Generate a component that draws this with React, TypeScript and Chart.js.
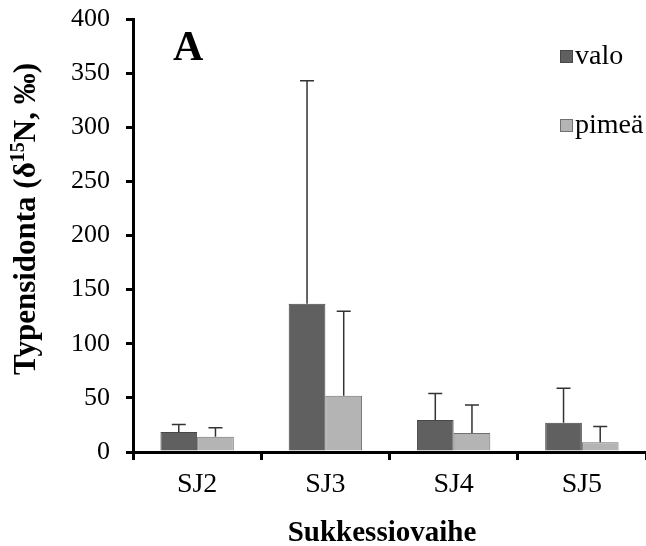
import React, { useEffect, useRef } from "react";
import { Chart, registerables } from "chart.js";

Chart.register(...registerables);

// ---- data ----
const categories = ["SJ2", "SJ3", "SJ4", "SJ5"];
const valo = [18.5, 137, 29.5, 27];
const valoErr = [7, 206, 24.5, 32];
const pimea = [14, 52, 17.5, 9];
const pimeaErr = [8.5, 78, 26, 14.5];
const seriesNames = ["valo", "pimeä"];
const yMin = 0;
const yMax = 400;
const yStep = 50;
const yTitleMain = "Typensidonta (δ";
const yTitleSup = "15";
const yTitleEnd = "N, ‰)";
const xTitle = "Sukkessiovaihe";
const panelLabel = "A";

const SERIF = '"Liberation Serif", "Times New Roman", serif';
const COLORS = ["#606060", "#b4b4b4"];
const BORDERS = ["#474747", "#707070"];

const errorBarPlugin = {
  id: "errorBars",
  afterDatasetsDraw(chart: any) {
    const ctx = chart.ctx;
    const ys = chart.scales.y;
    chart.data.datasets.forEach((ds: any, i: number) => {
      const meta = chart.getDatasetMeta(i);
      meta.data.forEach((el: any, j: number) => {
        const v = ds.data[j];
        const top = ys.getPixelForValue(v + ds.errors[j]);
        ctx.save();
        ctx.strokeStyle = "#333333";
        ctx.lineWidth = 1.5;
        ctx.beginPath();
        ctx.moveTo(el.x, el.y);
        ctx.lineTo(el.x, top);
        ctx.moveTo(el.x - 7, top);
        ctx.lineTo(el.x + 7, top);
        ctx.stroke();
        ctx.restore();
      });
    });
  },
};

const decorPlugin = {
  id: "decor",
  afterDraw(chart: any) {
    const ctx = chart.ctx;
    ctx.save();
    ctx.fillStyle = "#000";
    // y title (rotated, with superscript)
    const big = `bold 31px ${SERIF}`;
    const small = `bold 20px ${SERIF}`;
    ctx.font = big;
    const w1 = ctx.measureText(yTitleMain).width;
    const w3 = ctx.measureText(yTitleEnd).width;
    ctx.font = small;
    const w2 = ctx.measureText(yTitleSup).width;
    const total = w1 + w2 + w3;
    ctx.translate(35, 219);
    ctx.rotate(-Math.PI / 2);
    ctx.textBaseline = "alphabetic";
    ctx.textAlign = "left";
    let x = -total / 2;
    ctx.font = big;
    ctx.fillText(yTitleMain, x, 0);
    x += w1;
    ctx.font = small;
    ctx.fillText(yTitleSup, x, -11);
    x += w2;
    ctx.font = big;
    ctx.fillText(yTitleEnd, x, 0);
    ctx.restore();

    ctx.save();
    ctx.fillStyle = "#000";
    ctx.textBaseline = "alphabetic";
    // x title
    ctx.font = `bold 29px ${SERIF}`;
    ctx.textAlign = "center";
    ctx.fillText(xTitle, 382, 541);
    // panel label
    ctx.font = `bold 42px ${SERIF}`;
    ctx.textAlign = "left";
    ctx.fillText(panelLabel, 173, 60);
    // legend
    const legendY = [50.5, 119.5];
    ctx.font = `28px ${SERIF}`;
    seriesNames.forEach((name, i) => {
      ctx.fillStyle = COLORS[i];
      ctx.fillRect(560.5, legendY[i], 12, 12);
      ctx.strokeStyle = BORDERS[i];
      ctx.lineWidth = 1;
      ctx.strokeRect(560.5, legendY[i], 12, 12);
      ctx.fillStyle = "#000";
      ctx.fillText(name, 575, legendY[i] + 13.5);
    });
    ctx.restore();
  },
};

export default function App() {
  const ref = useRef<HTMLCanvasElement | null>(null);
  useEffect(() => {
    document.body.style.margin = "0";
    const canvas = ref.current!;
    const chart = new Chart(canvas, {
      type: "bar",
      data: {
        labels: categories,
        datasets: [
          {
            label: seriesNames[0],
            data: valo,
            errors: valoErr,
            backgroundColor: COLORS[0],
            borderColor: BORDERS[0],
            borderWidth: 1,
            categoryPercentage: 0.572,
            barPercentage: 1,
          } as any,
          {
            label: seriesNames[1],
            data: pimea,
            errors: pimeaErr,
            backgroundColor: COLORS[1],
            borderColor: BORDERS[1],
            borderWidth: 1,
            categoryPercentage: 0.572,
            barPercentage: 1,
          } as any,
        ],
      },
      options: {
        responsive: false,
        animation: false,
        layout: { padding: { top: 19, right: 0, bottom: 0, left: 0 } },
        plugins: {
          legend: { display: false },
          tooltip: { enabled: false },
          title: { display: false },
        },
        scales: {
          x: {
            type: "category",
            offset: true,
            grid: {
              display: true,
              offset: true,
              drawOnChartArea: false,
              drawTicks: true,
              tickLength: 8,
              lineWidth: 3,
              color: "#000",
            },
            border: { display: true, color: "#000", width: 3 },
            ticks: {
              color: "#000",
              font: { family: SERIF, size: 28 },
              padding: 8,
              maxRotation: 0,
            },
            afterFit: (s: any) => {
              s.height = 94;
              s.paddingLeft = 0;
              s.paddingRight = 0;
            },
          },
          y: {
            min: yMin,
            max: yMax,
            grid: {
              display: true,
              drawOnChartArea: false,
              drawTicks: true,
              tickLength: 7,
              lineWidth: 3,
              color: "#000",
            },
            border: { display: true, color: "#000", width: 3 },
            ticks: {
              stepSize: yStep,
              color: "#000",
              font: { family: SERIF, size: 26 },
              padding: 16,
            },
            afterFit: (s: any) => {
              s.width = 133;
              s.paddingTop = 10;
              s.paddingBottom = 10;
            },
          },
        },
      } as any,
      plugins: [errorBarPlugin, decorPlugin],
    });
    return () => chart.destroy();
  }, []);
  return (
    <div style={{ width: 646, height: 546, background: "#fff" }}>
      <canvas ref={ref} width={646} height={546} style={{ display: "block" }} />
    </div>
  );
}
